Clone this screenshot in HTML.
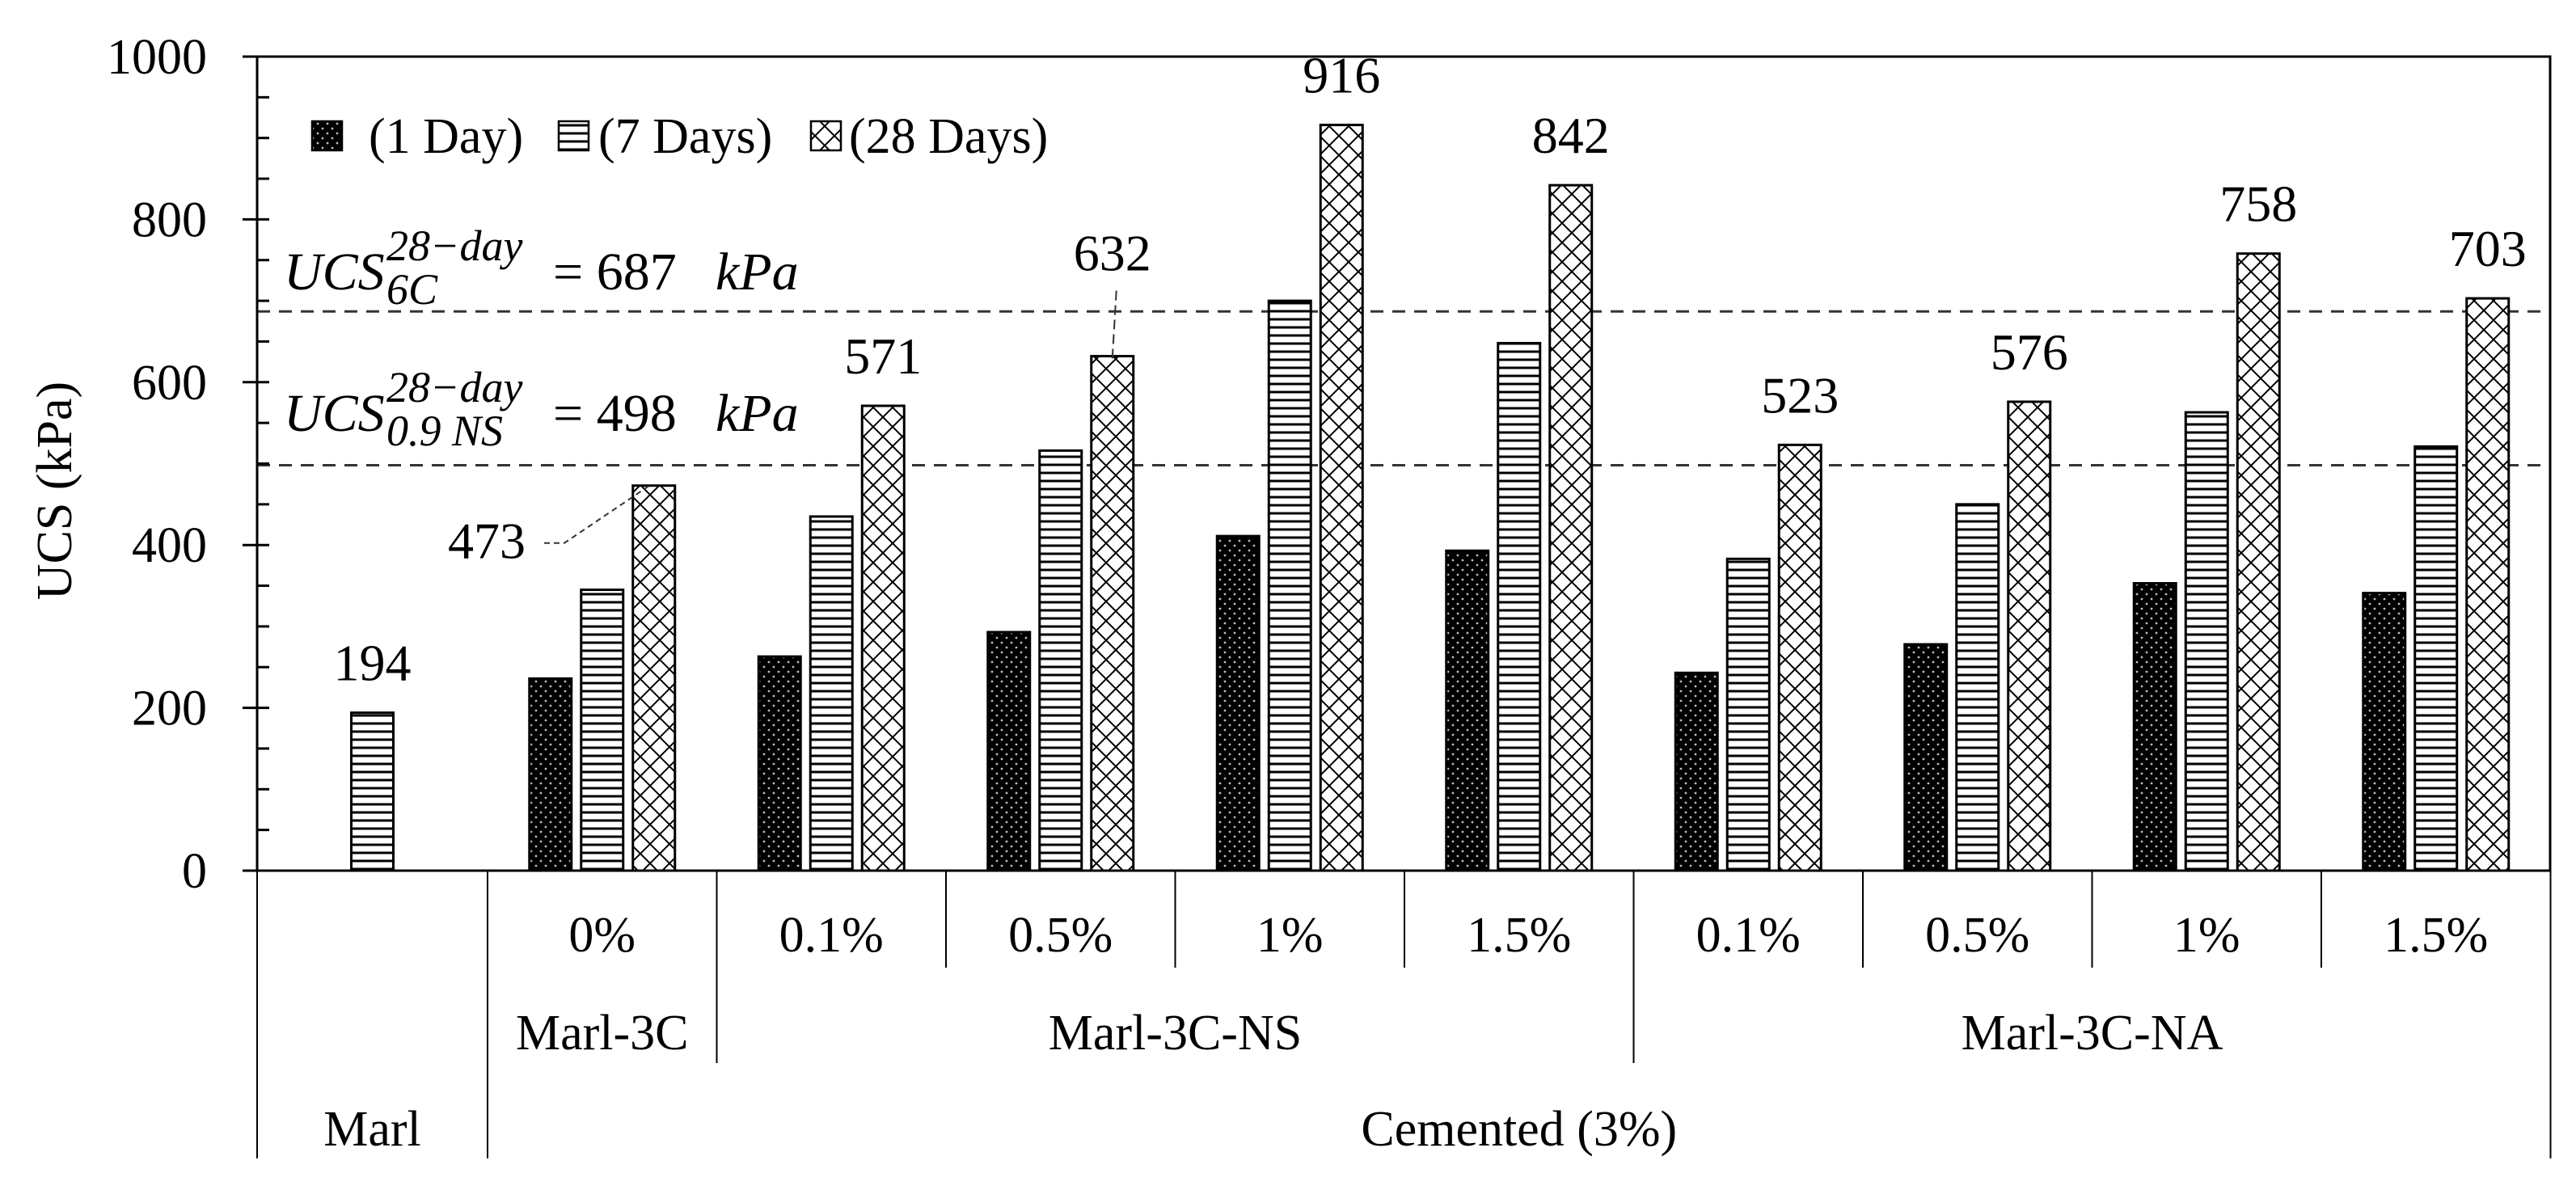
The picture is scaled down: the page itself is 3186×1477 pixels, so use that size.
<!DOCTYPE html>
<html><head><meta charset="utf-8"><style>
html,body{margin:0;padding:0;background:#fff;}
svg{display:block;font-family:"Liberation Serif",serif;}
</style></head><body>
<svg id="chart" width="3186" height="1477" viewBox="0 0 3186 1477" xmlns="http://www.w3.org/2000/svg">
<defs>
<pattern id="pDots" width="12" height="12" patternUnits="userSpaceOnUse">
<rect width="12" height="12" fill="#000"/>
<circle cx="3" cy="3" r="1.4" fill="#bbb"/><circle cx="9" cy="9" r="1.4" fill="#bbb"/>
</pattern>
<pattern id="pHoriz" width="10" height="10" patternUnits="userSpaceOnUse">
<rect width="10" height="10" fill="#fff"/>
<rect y="3.5" width="10" height="3" fill="#000"/>
</pattern>
<pattern id="pCross" width="24" height="24" patternUnits="userSpaceOnUse">
<rect width="24" height="24" fill="#fff"/>
<path d="M0 0L24 24M24 0L0 24" stroke="#000" stroke-width="2"/>
</pattern>
</defs>
<g id="plot"></g>
</svg>
<script>
const groupLabels = ["Marl","0%","0.1%","0.5%","1%","1.5%","0.1%","0.5%","1%","1.5%"];
const day1 = [null,236,263,293,411,393,243,278,353,341];
const day7 = [194,345,435,516,700,648,383,450,563,521];
const day28 = [null,473,571,632,916,842,523,576,758,703];
const refValues = [687,498];
const yTicks = [0,200,400,600,800,1000];

const NS="http://www.w3.org/2000/svg";
const g=document.getElementById('plot');
const X0=318, X1=3154, Y0=1077, Y1=70, MARLW=285, BAND=283.5;
const y=v=>Y0-(v/1000)*(Y0-Y1);
const bandCenter=i=> i===0 ? X0+MARLW/2 : X0+MARLW+(i-0.5)*BAND;
function mk(tag,attrs,parent){const e=document.createElementNS(NS,tag);for(const k in attrs)e.setAttribute(k,attrs[k]);(parent||g).appendChild(e);return e;}
function txt(s,x,yy,size,anchor,parent,style){const t=mk('text',{x:x,y:yy,'font-size':size,'text-anchor':anchor||'middle',fill:'#000'},parent);if(style)t.setAttribute('style',style);t.textContent=s;return t;}

refValues.forEach((v,i)=>{
 const l=mk('line',{x1:X0,x2:X1,y1:y(v),y2:y(v),stroke:'#333','stroke-width':3,'stroke-dasharray':'16 11'});
 
 
});

const series=[[day1,'url(#pDots)','1-day'],[day7,'url(#pHoriz)','7-day'],[day28,'url(#pCross)','28-day']];
const BW=52, OFF=64;
groupLabels.forEach((lab,i)=>{
 const c=bandCenter(i);
 series.forEach((s,j)=>{
  const v=s[0][i]; if(v==null) return;
  const cx = i===0 ? c : c+(j-1)*OFF;
  const r=mk('rect',{x:cx-BW/2,y:y(v),width:BW,height:Y0-y(v),fill:s[1],stroke:'#000','stroke-width':3});
  
  
 });
 let lv, lx;
 if(i===0){lv=day7[0];lx=c;} else {lv=day28[i];lx=c+OFF;}
 let t;
 if(i===1){
  t=txt(String(lv),602,y(lv)+90,64,'middle');
  mk('path',{d:`M673 ${y(lv)+71} L698 ${y(lv)+71} L${lx-4} ${y(lv)-1}`,fill:'none',stroke:'#333','stroke-width':2,'stroke-dasharray':'7 5'});
 } else if(i===3){
  t=txt(String(lv),lx,y(lv)-106,64,'middle');
  mk('line',{x1:lx+5,y1:y(lv)-81,x2:lx,y2:y(lv)+3,stroke:'#333','stroke-width':2,'stroke-dasharray':'12 6'});
 } else {
  t=txt(String(lv),lx,y(lv)-40,64,'middle');
 }
 
 
});

mk('rect',{x:X0,y:Y1,width:X1-X0,height:Y0-Y1,fill:'none',stroke:'#000','stroke-width':3});
mk('line',{x1:300,x2:X1,y1:Y0,y2:Y0,stroke:'#000','stroke-width':3});
for(let v=0;v<=1000;v+=50){
 const major=v%200===0;
 mk('line',{x1:major?300:X0,x2:333,y1:y(v),y2:y(v),stroke:'#000','stroke-width':3});
}
yTicks.forEach(v=>{
 const t=txt(String(v),256,y(v)+21,62,'end');
 
 
});
const yt=txt('UCS (kPa)',0,0,62,'middle');
yt.setAttribute('transform','translate(88,607) rotate(-90)');



const b=i=>i===0?X0:X0+MARLW+(i-1)*BAND;
for(let i=0;i<=10;i++){
 let y2=1197;
 if(i===0||i===1||i===10) y2=1433;
 else if(i===2||i===6) y2=1315;
 mk('line',{x1:b(i),x2:b(i),y1:Y0,y2:y2,stroke:'#000','stroke-width':2});
}
groupLabels.forEach((lab,i)=>{
 if(i===0) return;
 const t=txt(lab,bandCenter(i),1177,62,'middle');
 
 
});
[['Marl-3C',bandCenter(1)],['Marl-3C-NS',(b(2)+b(6))/2],['Marl-3C-NA',(b(6)+b(10))/2]].forEach(([s,x])=>{
 const t=txt(s,x,1298,62,'middle');
 
 
});
[['Marl',bandCenter(0)],['Cemented (3%)',(b(1)+b(10))/2]].forEach(([s,x])=>{
 const t=txt(s,x,1417,62,'middle');
 
 
});

function refLabel(sub,val,by){
 const gg=mk('g',{});
 
 
 txt('UCS',351,by,66,'start',gg,'font-style:italic');
 txt('28−day',478,by-36,54,'start',gg,'font-style:italic');
 txt(sub,478,by+18,54,'start',gg,'font-style:italic');
 txt('= '+val,684,by,66,'start',gg);
 txt('kPa',885,by,66,'start',gg,'font-style:italic');
}
refLabel('6C','687',358);
refLabel('0.9 NS','498',533);

const lg=mk('g',{});


[[386,456,'url(#pDots)','(1 Day)'],[691,740,'url(#pHoriz)','(7 Days)'],[1003,1050,'url(#pCross)','(28 Days)']].forEach(([mx,tx,f,s])=>{
 const r=mk('rect',{x:mx,y:150,width:37,height:36,fill:f,stroke:'#000','stroke-width':2.5},lg);
 
 
 const t=txt(s,tx,189,62,'start',lg);
 
 
});
</script>
</body></html>
